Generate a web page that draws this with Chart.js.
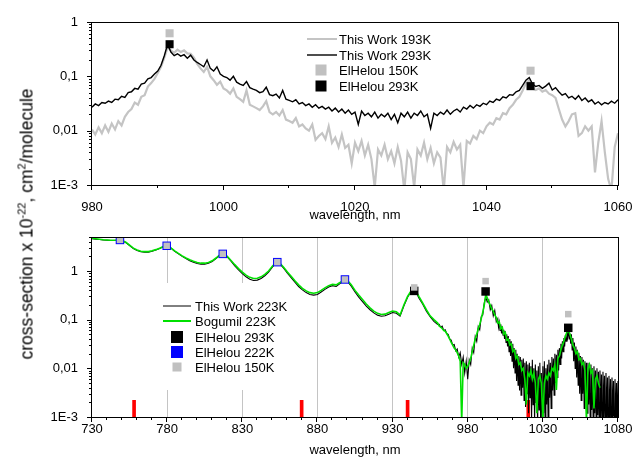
<!DOCTYPE html>
<html>
<head>
<meta charset="utf-8">
<title>cross-section</title>
<script src="https://cdn.jsdelivr.net/npm/chart.js@4.4.1/dist/chart.umd.min.js"></script>
<style>
  body { margin: 0; background: #fff; }
  #wrap { position: relative; width: 635px; height: 457px; overflow: hidden; font-family: 'Liberation Sans', Arial, sans-serif; }
  #topChart { position: absolute; left: 0; top: 0; }
  #bottomChart { position: absolute; left: 0; top: 225px; }
  #yTitle { position: absolute; left: 27px; top: 224px; transform: translate(-50%, -50%) rotate(-90deg);
            white-space: nowrap; font-size: 17.5px; color: #000; }
  #yTitle sup { font-size: 11px; line-height: 0; }
</style>
</head>
<body>
<div id="wrap">
  <canvas id="topChart" width="635" height="225"></canvas>
  <canvas id="bottomChart" width="635" height="232"></canvas>
  <div id="yTitle">cross-section x 10<sup>-22</sup>, cm<sup>2</sup>/molecule</div>
</div>
<script>
// ---- top panel: spectra sampled every 0.5 nm from 980 nm ----
const topStart = 980, topStep = 0.5;
const top193K = [
  .0105, .0085, .0115, .0090, .0125, .0095, .0135, .0105, .0150, .0125,
  .0180, .0220, .0250, .0330, .0300, .0420, .0450, .0650, .0750, .0900,
  .115, .150, .220, .340, .300, .270, .310, .280, .300, .265,
  .260, .220, .170, .140, .120, .150, .100, .085, .070, .080,
  .060, .055, .048, .060, .042, .038, .034, .055, .030, .028,
  .026, .024, .028, .035, .022, .020, .022, .019, .024, .016,
  .015, .014, .017, .012, .013, .011, .010, .013, .0068, .0080,
  .0090, .0070, .0120, .0060, .0075, .0050, .0085, .0048, .0055, .0025,
  .0060, .0042, .0065, .0035, .0055, .0030, .0009, .0045, .0035, .0055,
  .0030, .0042, .0025, .0050, .0028, .0008, .0040, .0030, .0009, .0045,
  .0035, .0060, .0030, .0048, .0025, .0040, .0032, .0008, .0050, .0040,
  .0062, .0045, .0055, .0009, .0065, .0058, .0080, .0070, .0100, .0090,
  .0120, .0140, .0130, .0170, .0160, .0210, .0200, .0260, .0300, .0370,
  .0420, .0550, .0750, .0850, .0600, .0560, .0600, .0520, .0560, .0480,
  .0450, .0400, .0250, .0160, .0120, .0150, .0200, .0210, .0080, .0090,
  .0120, .0100, .0120, .0017, .0060, .0150, .0040, .0013, .0008, .0050,
  .0090
];
const top293K = [
  .027, .031, .029, .033, .032, .035, .033, .038, .037, .043,
  .041, .050, .052, .060, .058, .072, .075, .090, .095, .110,
  .125, .160, .240, .390, .280, .240, .260, .235, .250, .215,
  .245, .200, .180, .165, .150, .200, .140, .125, .150, .110,
  .100, .095, .085, .100, .078, .072, .068, .080, .062, .058,
  .055, .050, .052, .063, .046, .044, .047, .040, .055, .038,
  .036, .034, .037, .031, .033, .029, .031, .027, .030, .026,
  .028, .025, .027, .023, .026, .022, .025, .021, .024, .020,
  .022, .013, .023, .019, .021, .018, .022, .017, .020, .018,
  .021, .016, .020, .014, .021, .018, .022, .017, .021, .019,
  .023, .018, .020, .011, .021, .019, .022, .020, .024, .020,
  .023, .025, .022, .027, .025, .029, .026, .030, .028, .032,
  .030, .035, .033, .038, .036, .042, .040, .046, .045, .052,
  .055, .068, .085, .095, .072, .065, .068, .060, .066, .075,
  .056, .062, .052, .045, .048, .040, .043, .038, .044, .036,
  .040, .034, .037, .031, .034, .030, .033, .031, .035, .032,
  .037
];
const topElHelouWave = [991.8, 1046.7];
const topElHelou150K = [0.62, 0.127];
const topElHelou293K = [0.39, 0.066];
const topXTicks = [980, 1000, 1020, 1040, 1060];

// ---- bottom panel ----
// smooth part every 2.5 nm from 730, then 1 nm from 961, then 0.5 nm from 1000 (This Work only)
const smoothStart = 730, smoothStep = 2.5;
const noisyStart = 961, noisyStep = 1;
const fineStart = 1000, fineStep = 0.5;
const botSmoothThisWork = [
  4.6, 4.5, 4.45, 4.35, 4.3, 4.25, 4.25, 4.3, 4.2, 3.85,
  3.35, 2.9, 2.65, 2.5, 2.45, 2.45, 2.55, 2.7, 2.9, 3.15,
  3.3, 2.95, 2.55, 2.25, 2.0, 1.8, 1.63, 1.52, 1.43, 1.38,
  1.38, 1.44, 1.56, 1.8, 2.1, 2.25, 1.95, 1.6, 1.28, 1.05,
  0.88, 0.76, 0.68, 0.64, 0.65, 0.70, 0.80, 0.95, 1.2, 1.45,
  1.4, 1.15, 0.9, 0.73, 0.59, 0.48, 0.41, 0.36, 0.33, 0.32,
  0.33, 0.37, 0.42, 0.47, 0.50, 0.48, 0.55, 0.63, 0.61, 0.49,
  0.37, 0.29, 0.235, 0.19, 0.16, 0.138, 0.124, 0.118, 0.12, 0.13,
  0.14, 0.135, 0.118, 0.19, 0.29, 0.39, 0.40, 0.28, 0.21, 0.15,
  0.115, 0.092, 0.08
];
const botSmoothBogumil = [
  4.7, 4.6, 4.5, 4.4, 4.35, 4.3, 4.3, 4.35, 4.25, 3.9,
  3.4, 2.95, 2.7, 2.55, 2.5, 2.5, 2.6, 2.75, 2.95, 3.2,
  3.35, 3.0, 2.6, 2.3, 2.05, 1.85, 1.7, 1.58, 1.5, 1.45,
  1.45, 1.5, 1.62, 1.85, 2.15, 2.3, 2.0, 1.65, 1.35, 1.12,
  0.95, 0.82, 0.74, 0.70, 0.71, 0.76, 0.85, 1.0, 1.25, 1.5,
  1.45, 1.2, 0.95, 0.78, 0.63, 0.52, 0.44, 0.39, 0.36, 0.35,
  0.36, 0.40, 0.45, 0.50, 0.53, 0.52, 0.58, 0.66, 0.64, 0.52,
  0.40, 0.32, 0.26, 0.21, 0.175, 0.15, 0.135, 0.128, 0.13, 0.14,
  0.15, 0.145, 0.125, 0.2, 0.3, 0.4, 0.42, 0.3, 0.22, 0.16,
  0.12, 0.1, 0.085
];
// This Work 223K, 961-999 nm
const botNoisyThisWork = [
  .080, .070, .074, .060, .062, .052, .050, .040, .038, .030,
  .031, .023, .025, .017, .021, .012, .017, .008, .014, .006,
  .015, .012, .026, .021, .045, .036, .072, .062, .115, .125,
  .220, .290, .230, .255, .160, .195, .120, .155, .090
];
// This Work 223K, 1000-1080 nm
const botFineThisWork = [
  .105, .070, .088, .060, .080, .052, .072, .048, .062, .040,
  .058, .034, .050, .028, .046, .022, .040, .018, .036, .014,
  .032, .010, .026, .008, .024, .0055, .020, .0045, .018, .0035,
  .017, .0028, .015, .004, .016, .0022, .013, .0016, .014, .003,
  .012, .0012, .013, .0025, .011, .0009, .015, .0018, .010, .0008,
  .012, .0020, .009, .0006, .011, .0014, .013, .0009, .008, .0005,
  .011, .0012, .014, .0007, .010, .0018, .012, .0008, .015, .0025,
  .013, .0015, .017, .0035, .016, .0028, .020, .0050, .019, .0065,
  .024, .0090, .026, .012, .032, .016, .036, .022, .042, .028,
  .048, .036, .058, .044, .062, .040, .052, .032, .050, .024,
  .042, .014, .034, .010, .028, .0065, .024, .0045, .021, .0030,
  .018, .0022, .017, .0030, .015, .0015, .014, .0024, .013, .0012,
  .013, .0018, .011, .0009, .012, .0014, .010, .0007, .011, .0012,
  .009, .0006, .010, .0011, .0085, .0005, .009, .0009, .0075, .0006,
  .0085, .0010, .007, .0005, .0080, .0008, .0065, .0004, .0070, .0007,
  .006, .0005, .0065, .0008, .0055, .0004, .0060, .0006, .0050, .0005,
  .0055
];
// Bogumil 223K, 961-1068 nm
const botNoisyBogumil = [
  .074, .070, .066, .060, .058, .052, .046, .040, .034, .030,
  .026, .024, .021, .018, .014, .0008, .013, .012, .010, .011,
  .013, .016, .022, .030, .040, .050, .065, .080, .105, .140,
  .200, .330, .280, .230, .200, .165, .150, .125, .110, .085,
  .090, .065, .070, .050, .055, .038, .040, .030, .032, .022,
  .024, .016, .018, .012, .013, .009, .010, .006, .0018, .008,
  .007, .009, .006, .008, .005, .0012, .006, .007, .005, .0009,
  .005, .007, .006, .008, .007, .010, .009, .012, .0036, .016,
  .018, .024, .030, .036, .046, .055, .062, .050, .040, .030,
  .026, .020, .022, .015, .016, .012, .013, .009, .0008, .010,
  .012, .008, .009, .0015, .006, .007, .005, .004
];
const botElHelou293Wave = [944.4, 991.9, 1046.9];
const botElHelou293K = [0.39, 0.38, 0.068];
const botElHelou222Wave = [748.6, 779.7, 817.0, 853.3, 898.3];
const botElHelou222K = [4.35, 3.3, 2.25, 1.52, 0.67];
const botElHelou150Wave = [748.6, 779.7, 817.0, 853.3, 898.3, 944.4, 991.9, 1046.9];
const botElHelou150K = [4.35, 3.3, 2.25, 1.52, 0.67, 0.46, 0.62, 0.13];
const redMarkWave = [758, 869.5, 940, 1020.3];
const redMarkTop = [0.0022, 0.0022, 0.0022, 0.0022];
const botXTicks = [730, 780, 830, 880, 930, 980, 1030, 1080];

const yTickValues = [0.001, 0.01, 0.1, 1];
const yTickLabels = ['1E-3', '0,01', '0,1', '1'];

// helpers
function gridPoints(start, step, values) {
  return values.map((v, i) => ({ x: start + i * step, y: v }));
}
function pairPoints(xs, ys) {
  return xs.map((x, i) => ({ x: x, y: ys[i] }));
}

Chart.defaults.font.family = "'Liberation Sans', Arial, sans-serif";
Chart.defaults.font.size = 13;
Chart.defaults.color = '#000';

// frame plus outward major/minor ticks (origin style)
const frameTicks = {
  id: 'frameTicks',
  afterDraw(chart, args, opts) {
    const { ctx, chartArea: a } = chart;
    const x = chart.scales.x, y = chart.scales.y;
    ctx.save();
    ctx.strokeStyle = '#000';
    ctx.lineWidth = 1;
    ctx.strokeRect(Math.round(a.left) - 0.5, Math.round(a.top) + 0.5, Math.round(a.right - a.left) + 1, Math.round(a.bottom - a.top));
    ctx.beginPath();
    for (let v = x.min; v <= x.max + 1e-6; v += opts.xMinor) {
      const px = Math.round(x.getPixelForValue(v)) - 0.5;
      const major = x.ticks.some(t => Math.abs(t.value - v) < 1e-6);
      ctx.moveTo(px, a.bottom);
      ctx.lineTo(px, a.bottom + (major ? 5 : 3));
    }
    const e0 = Math.floor(Math.log10(y.min)), e1 = Math.ceil(Math.log10(y.max));
    for (let e = e0; e <= e1; e++) {
      for (let m = 1; m <= 9; m++) {
        const v = m * Math.pow(10, e);
        if (v < y.min * 0.999 || v > y.max * 1.001) continue;
        const py = Math.round(y.getPixelForValue(v)) + 0.5;
        ctx.moveTo(a.left, py);
        ctx.lineTo(a.left - (m === 1 ? 5 : 3), py);
      }
    }
    ctx.stroke();
    ctx.restore();
  }
};

// legend drawn inside the plot area
const innerLegend = {
  id: 'innerLegend',
  beforeDatasetsDraw(chart, args, opts) {
    if (!opts.box) return;
    const ctx = chart.ctx;
    ctx.save();
    ctx.fillStyle = '#fff';
    ctx.fillRect(opts.box[0], opts.box[1], opts.box[2], opts.box[3]);
    ctx.restore();
  },
  afterDraw(chart, args, opts) {
    const ctx = chart.ctx;
    ctx.save();
    ctx.font = "13px 'Liberation Sans', Arial, sans-serif";
    ctx.textBaseline = 'middle';
    opts.items.forEach((it, i) => {
      const ds = chart.data.datasets[it.ds];
      const y = Math.round(opts.y + i * opts.row);
      if (it.kind === 'line') {
        ctx.strokeStyle = ds.borderColor;
        ctx.lineWidth = it.width;
        ctx.beginPath();
        ctx.moveTo(opts.lineX[0], y);
        ctx.lineTo(opts.lineX[1], y);
        ctx.stroke();
      } else {
        ctx.fillStyle = ds.backgroundColor;
        ctx.fillRect(opts.markX - it.size / 2, y - it.size / 2, it.size, it.size);
      }
      ctx.fillStyle = '#000';
      ctx.fillText(ds.label, opts.textX, y + 1);
    });
    ctx.restore();
  }
};

function xAxis(min, max, majors, titlePad) {
  return {
    type: 'linear', min: min, max: max, offset: false,
    afterBuildTicks: s => { s.ticks = majors.map(v => ({ value: v })); },
    afterFit: s => { s.height = 40; s.paddingLeft = 0; s.paddingRight = 0; },
    ticks: { autoSkip: false, maxRotation: 0, padding: 0, callback: v => String(v) },
    title: { display: true, text: 'wavelength, nm', font: { size: 13, lineHeight: 1 }, padding: { top: 0, bottom: titlePad } },
    border: { display: false },
    grid: { display: false, offset: false }
  };
}
function yAxis(min, max) {
  return {
    type: 'logarithmic', min: min, max: max,
    afterBuildTicks: s => { s.ticks = yTickValues.map(v => ({ value: v })); },
    afterFit: s => { s.width = 92; s.paddingTop = 0; s.paddingBottom = 0; },
    ticks: { autoSkip: false, padding: 6, callback: v => yTickLabels[yTickValues.indexOf(v)] || '' },
    border: { display: false },
    grid: { display: false }
  };
}

// top chart
const topX = xAxis(980, 1060, topXTicks, 3.5);
topX.ticks.padding = 7;
new Chart(document.getElementById('topChart'), {
  type: 'line',
  data: {
    datasets: [
      { label: 'ElHelou 293K', type: 'scatter', data: pairPoints(topElHelouWave, topElHelou293K),
        pointStyle: 'rect', pointRadius: 5.7, borderWidth: 0, backgroundColor: '#000', borderColor: '#000', order: 1 },
      { label: 'ElHelou 150K', type: 'scatter', data: pairPoints(topElHelouWave, topElHelou150K),
        pointStyle: 'rect', pointRadius: 5.7, borderWidth: 0, backgroundColor: '#c0c0c0', borderColor: '#c0c0c0', order: 2 },
      { label: 'This Work 293K', data: gridPoints(topStart, topStep, top293K),
        borderColor: '#000', borderWidth: 1.4, pointRadius: 0, tension: 0, order: 3 },
      { label: 'This Work 193K', data: gridPoints(topStart, topStep, top193K),
        borderColor: '#c4c4c4', borderWidth: 2.2, pointRadius: 0, tension: 0, order: 4 }
    ]
  },
  options: {
    responsive: false, animation: false, devicePixelRatio: 1, events: [],
    layout: { padding: { top: 22, right: 17, left: 0, bottom: 0 } },
    scales: { x: topX, y: yAxis(0.001, 1) },
    plugins: {
      legend: { display: false }, tooltip: { enabled: false },
      frameTicks: { xMinor: 10 },
      innerLegend: {
        y: 39, row: 15.6, lineX: [307, 337], markX: 321, textX: 339,
        items: [
          { ds: 3, kind: 'line', width: 2 },
          { ds: 2, kind: 'line', width: 1.4 },
          { ds: 1, kind: 'mark', size: 11 },
          { ds: 0, kind: 'mark', size: 11 }
        ]
      }
    }
  },
  plugins: [frameTicks, innerLegend]
});

// bottom chart
const botX = xAxis(730, 1080, botXTicks, 0);
botX.ticks.padding = 5;
botX.grid = {
  display: true, drawTicks: false, drawOnChartArea: true, offset: false, lineWidth: 1,
  color: ctx => (ctx.tick && ctx.tick.value > 730 && ctx.tick.value < 1080) ? '#c4c4c4' : 'rgba(0,0,0,0)'
};
const thisWork223 = gridPoints(smoothStart, smoothStep, botSmoothThisWork)
  .concat(gridPoints(noisyStart, noisyStep, botNoisyThisWork))
  .concat(gridPoints(fineStart, fineStep, botFineThisWork));
const bogumil223 = gridPoints(smoothStart, smoothStep, botSmoothBogumil)
  .concat(gridPoints(noisyStart, noisyStep, botNoisyBogumil));
new Chart(document.getElementById('bottomChart'), {
  type: 'line',
  data: {
    datasets: [
      { label: 'ElHelou 150K', type: 'scatter', data: pairPoints(botElHelou150Wave, botElHelou150K),
        pointStyle: 'rect', pointRadius: 4.6, borderWidth: 0, backgroundColor: '#c0c0c0', borderColor: '#c0c0c0', order: 1 },
      { label: 'ElHelou 222K', type: 'scatter', data: pairPoints(botElHelou222Wave, botElHelou222K),
        pointStyle: 'rect', pointRadius: 6, borderWidth: 0, backgroundColor: '#0000ff', borderColor: '#0000ff', order: 2 },
      { label: 'ElHelou 293K', type: 'scatter', data: pairPoints(botElHelou293Wave, botElHelou293K),
        pointStyle: 'rect', pointRadius: 6, borderWidth: 0, backgroundColor: '#000', borderColor: '#000', order: 3 },
      { label: 'Bogumil 223K', data: bogumil223,
        borderColor: '#00e000', borderWidth: 1.6, pointRadius: 0, tension: 0, order: 4 },
      { label: 'This Work 223K', data: thisWork223,
        borderColor: '#000', borderWidth: 1.1, pointRadius: 0, tension: 0, order: 5 },
      { label: 'band', type: 'bar', data: redMarkWave.map((w, i) => ({ x: w, y: [0.001, redMarkTop[i]] })),
        backgroundColor: '#ff0000', barThickness: 3, order: 6 }
    ]
  },
  options: {
    responsive: false, animation: false, devicePixelRatio: 1, events: [],
    layout: { padding: { top: 12, right: 17, left: 0, bottom: 0 } },
    scales: { x: botX, y: yAxis(0.001, 5) },
    plugins: {
      legend: { display: false }, tooltip: { enabled: false },
      frameTicks: { xMinor: 10 },
      innerLegend: {
        box: [155, 58, 140, 107],
        y: 81, row: 15.3, lineX: [163, 191], markX: 177, textX: 195,
        items: [
          { ds: 4, kind: 'line', width: 1 },
          { ds: 3, kind: 'line', width: 2 },
          { ds: 2, kind: 'mark', size: 12 },
          { ds: 1, kind: 'mark', size: 12 },
          { ds: 0, kind: 'mark', size: 9 }
        ]
      }
    }
  },
  plugins: [frameTicks, innerLegend]
});
</script>
</body>
</html>
